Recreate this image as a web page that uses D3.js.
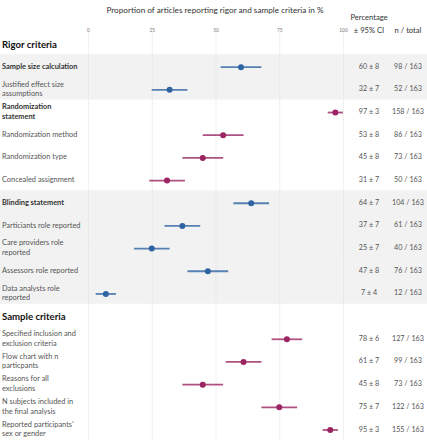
<!DOCTYPE html>
<html><head><meta charset="utf-8">
<script src="https://cdn.jsdelivr.net/npm/d3@7"></script>
<style>
body{margin:0;background:#fff;}
svg{display:block;font-family:Lato,"Open Sans",sans-serif;}
</style></head>
<body>
<script>
const title = "Proportion of articles reporting rigor and sample criteria in %";
const ticks = [0, 25, 50, 75, 100];
const sections = ["Rigor criteria", "Sample criteria"];
const labels = [
  "Sample size calculation",
  "Justified effect size\nassumptions",
  "Randomization\nstatement",
  "Randomization method",
  "Randomization type",
  "Concealed assignment",
  "Blinding statement",
  "Particiants role reported",
  "Care providers role\nreported",
  "Assessors role reported",
  "Data analysts role\nreported",
  "Specified inclusion and\nexclusion criteria",
  "Flow chart with n\nparticpants",
  "Reasons for all\nexclusions",
  "N subjects included in\nthe final analysis",
  "Reported participants'\nsex or gender"
];
const section = [0,0,0,0,0,0,0,0,0,0,0,1,1,1,1,1];
const isMain = [1,0,1,0,0,0,1,0,0,0,0,0,0,0,0,0];
const group = ["sample","sample","rand","rand","rand","rand","blind","blind","blind","blind","blind","crit","crit","crit","crit","crit"];
const pct = [60,32,97,53,45,31,64,37,25,47,7,78,61,45,75,95];
const ci  = [8,7,3,8,8,7,7,7,7,8,4,6,7,8,7,3];
const n   = [98,52,158,86,73,50,104,61,40,76,12,127,99,73,122,155];
const total = 163;
const shaded = ["sample","blind"];
const colors = {sample:"#2f64a3", blind:"#2f64a3", rand:"#9b2563", crit:"#9b2563"};

const W = 427, H = 440;
const svg = d3.select("body").append("svg").attr("width", W).attr("height", H);

// row keys: section header + items
const rowKeys = [];
const rows = [];
sections.forEach((s, si) => {
  rowKeys.push("h" + si); rows.push({type:"header", text:s, key:"h"+si});
  labels.forEach((l, i) => {
    if (section[i] === si) {
      rowKeys.push("r" + i);
      rows.push({type:"item", key:"r"+i, label:l, main:isMain[i], group:group[i], pct:pct[i], ci:ci[i], n:n[i]});
    }
  });
});

const y = d3.scalePoint().domain(rowKeys).range([44.5, 430]);
const step = y.step();
const x = d3.scaleLinear().domain([0, 100]).range([88, 343]);

// shaded bands
shaded.forEach(g => {
  const items = rows.filter(r => r.group === g);
  const y0 = d3.min(items, r => y(r.key)) - step/2 - 1.5;
  const y1 = d3.max(items, r => y(r.key)) + step/2 - 1.5;
  svg.append("rect").attr("x", 0).attr("y", y0).attr("width", W).attr("height", y1 - y0).attr("fill", "#f2f2f2");
});

// axis + gridlines
const axis = svg.append("g").attr("transform", "translate(0,33)")
  .call(d3.axisTop(x).tickValues(ticks).tickSize(-(H - 33)).tickPadding(1).tickFormat(d3.format("d")));
axis.select(".domain").remove();
axis.selectAll(".tick line").attr("stroke", "#dcdcdc").attr("stroke-width", 0.8).attr("stroke-dasharray", "1,1");
axis.selectAll(".tick text").attr("fill", "#777").attr("font-size", 4.8).attr("font-family", "Lato, sans-serif");

// title
svg.append("text").attr("x", 215).attr("y", 13).attr("text-anchor", "middle")
  .attr("font-size", 8.2).attr("fill", "#333").text(title);

// column headers
const colPct = 369, colN = 408;
svg.append("text").attr("x", colPct).attr("y", 20).attr("text-anchor", "middle").attr("font-size", 7.6).attr("fill", "#333").text("Percentage");
svg.append("text").attr("x", colPct).attr("y", 33).attr("text-anchor", "middle").attr("font-size", 7.6).attr("fill", "#333").text("± 95% CI");
svg.append("text").attr("x", colN).attr("y", 33).attr("text-anchor", "middle").attr("font-size", 7.6).attr("fill", "#333").text("n / total");

// section headers
svg.selectAll(".hdr").data(rows.filter(r => r.type === "header")).join("text")
  .attr("x", 2).attr("y", r => y(r.key)).attr("dy", "0.35em")
  .attr("font-size", 9.6).attr("font-weight", "bold").attr("fill", "#111").text(r => r.text);

const items = rows.filter(r => r.type === "item");

// labels
const lab = svg.selectAll(".lab").data(items).join("text")
  .attr("x", 2).attr("font-size", 7.4)
  .attr("font-weight", r => r.main ? "bold" : "normal")
  .attr("fill", r => r.main ? "#333" : "#555");
lab.each(function(r) {
  const lines = r.label.split("\n");
  const lh = 9.8;
  const t = d3.select(this);
  lines.forEach((ln, k) => {
    t.append("tspan").attr("x", 2)
      .attr("y", y(r.key) - 1 + (k - (lines.length - 1) / 2) * lh)
      .attr("dy", "0.35em").text(ln);
  });
});

// CI lines
svg.selectAll(".ci").data(items).join("line")
  .attr("x1", r => x(Math.max(0, r.pct - r.ci))).attr("x2", r => x(Math.min(100, r.pct + r.ci)))
  .attr("y1", r => y(r.key)).attr("y2", r => y(r.key))
  .attr("stroke", r => colors[r.group]).attr("stroke-opacity", 0.8).attr("stroke-width", 1.8);

// dots
svg.selectAll(".dot").data(items).join("circle")
  .attr("cx", r => x(r.pct)).attr("cy", r => y(r.key)).attr("r", 3)
  .attr("fill", r => colors[r.group]);

// value columns
svg.selectAll(".pv").data(items).join("text")
  .attr("x", colPct).attr("y", r => y(r.key) - 1).attr("dy", "0.35em").attr("text-anchor", "middle")
  .attr("font-size", 7.2).attr("fill", "#555").text(r => `${r.pct} ± ${r.ci}`);
svg.selectAll(".nv").data(items).join("text")
  .attr("x", colN).attr("y", r => y(r.key) - 1).attr("dy", "0.35em").attr("text-anchor", "middle")
  .attr("font-size", 7.2).attr("fill", "#555").text(r => `${r.n} / ${total}`);
</script>
</body></html>
